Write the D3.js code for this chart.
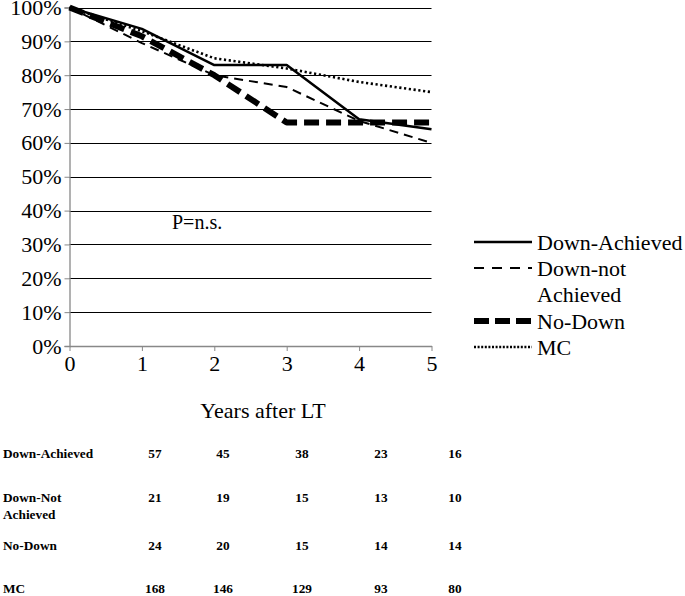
<!DOCTYPE html>
<html><head><meta charset="utf-8">
<script src="https://cdn.jsdelivr.net/npm/d3@7"></script>
<style>body{margin:0;background:#fff}svg{display:block}svg text{font-family:"Liberation Serif","Times New Roman",Times,Tinos,"DejaVu Serif",serif !important;fill:#000}</style>
</head><body><svg id="c" width="685" height="596"></svg>
<script>
const years = [0, 1, 2, 3, 4, 5];
const yTicks = [0, 10, 20, 30, 40, 50, 60, 70, 80, 90, 100];
const seriesNames = ["Down-Achieved", "Down-not Achieved", "No-Down", "MC"];
const downAchieved = [100, 93.7, 83, 83, 67, 64];
const downNotAchieved = [100, 89.5, 80, 76.5, 66.5, 60];
const noDown = [100, 91.5, 80, 66, 66, 66];
const mc = [100, 93, 85, 82, 78, 75];
const tableRows = ["Down-Achieved", "Down-Not Achieved", "No-Down", "MC"];
const nDownAchieved = [57, 45, 38, 23, 16];
const nDownNot = [21, 19, 15, 13, 10];
const nNoDown = [24, 20, 15, 14, 14];
const nMC = [168, 146, 129, 93, 80];

const svg = d3.select("#c");
const x = d3.scaleLinear().domain([0, 5]).range([69.5, 431.5]);
const y = d3.scaleLinear().domain([0, 100]).range([346, 7.5]);

svg.append("g").selectAll("line").data(yTicks.filter(d => d > 0)).join("line")
  .attr("x1", x(0)).attr("x2", x(5)).attr("y1", d => Math.round(y(d)) + 0.5).attr("y2", d => Math.round(y(d)) + 0.5)
  .attr("stroke", "#000").attr("stroke-width", 1);

const ya = svg.append("g").attr("transform", `translate(${x(0)},0)`)
  .call(d3.axisLeft(y).tickValues(yTicks).tickFormat(d => d + "%").tickSize(5).tickPadding(3));
ya.attr("font-family", null).attr("font-size", null);
ya.select(".domain").attr("stroke", "#888").attr("stroke-width", 1.3);
ya.selectAll(".tick line").attr("stroke", "#888");
ya.selectAll("text").style("font-size", "22px").attr("fill", "#000");

const xa = svg.append("g").attr("transform", `translate(0,${y(0)})`)
  .call(d3.axisBottom(x).tickValues(years).tickFormat(d3.format("d")).tickSize(5).tickSizeOuter(0).tickPadding(4));
xa.attr("font-family", null).attr("font-size", null);
xa.select(".domain").attr("stroke", "#888").attr("stroke-width", 1.3);
xa.selectAll(".tick line").attr("stroke", "#888");
xa.selectAll("text").style("font-size", "22px").attr("fill", "#000");

svg.append("text").attr("x", 263).attr("y", 418).attr("text-anchor", "middle")
  .style("font-size", "22px").text("Years after LT");

const styles = [
  {data: mc, w: 2.6, dash: "2.2,2.6"},
  {data: downNotAchieved, w: 2, dash: "9,6"},
  {data: noDown, w: 6, dash: "15,7"},
  {data: downAchieved, w: 2.5, dash: null}
];
const line = d3.line().x((d, i) => x(years[i])).y(d => y(d));
styles.forEach(s => {
  svg.append("path").datum(s.data).attr("d", line).attr("fill", "none")
    .attr("stroke", "#000").attr("stroke-width", s.w)
    .attr("stroke-dasharray", s.dash).attr("stroke-linejoin", "round");
});

svg.append("text").attr("x", 172).attr("y", 229).style("font-size", "20px").text("P=n.s.");

const leg = [
  {name: seriesNames[0], ly: 242, w: 2.5, dash: null, lines: ["Down-Achieved"]},
  {name: seriesNames[1], ly: 268, w: 2, dash: "10,8", lines: ["Down-not", "Achieved"]},
  {name: seriesNames[2], ly: 321, w: 6, dash: "15,6", lines: ["No-Down"]},
  {name: seriesNames[3], ly: 347, w: 2.4, dash: "2,1.6", lines: ["MC"]}
];
leg.forEach(l => {
  svg.append("line").attr("x1", 474).attr("x2", 532).attr("y1", l.ly).attr("y2", l.ly)
    .attr("stroke", "#000").attr("stroke-width", l.w).attr("stroke-dasharray", l.dash);
  l.lines.forEach((t, j) => {
    svg.append("text").attr("x", 537).attr("y", l.ly + 8 + j * 26).style("font-size", "22px").text(t);
  });
});

const cols = [155, 223, 302, 381, 455];
const rowData = [nDownAchieved, nDownNot, nNoDown, nMC];
const rowY = [458, 502, 550, 593];
tableRows.forEach((r, i) => {
  const parts = r === "Down-Not Achieved" ? ["Down-Not", "Achieved"] : [r];
  parts.forEach((p, j) => {
    svg.append("text").attr("x", 3).attr("y", rowY[i] + j * 17).style("font-size", "13.3px")
      .style("font-weight", "bold").text(p);
  });
  svg.append("g").selectAll("text").data(rowData[i]).join("text")
    .attr("x", (d, k) => cols[k]).attr("y", rowY[i]).attr("text-anchor", "middle")
    .style("font-size", "13.3px").style("font-weight", "bold").text(d => d);
});
</script></body></html>
